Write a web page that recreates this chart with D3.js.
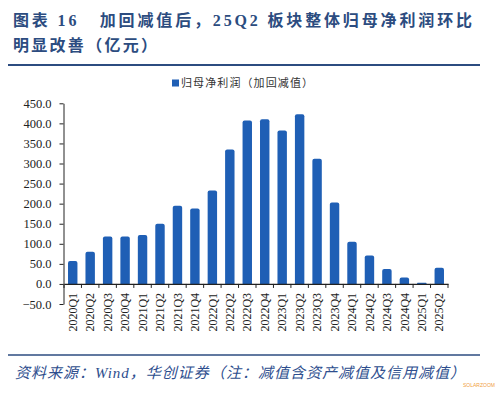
<!DOCTYPE html>
<html>
<head>
<meta charset="utf-8">
<script src="https://cdn.jsdelivr.net/npm/d3@7"></script>
<style>
  html, body { margin: 0; padding: 0; background: #fff; }
  svg { display: block; }
  text { white-space: pre; }
</style>
</head>
<body>
<svg id="chart"></svg>
<script>
// données
const quarters = ["2020Q1","2020Q2","2020Q3","2020Q4","2021Q1","2021Q2","2021Q3","2021Q4",
  "2022Q1","2022Q2","2022Q3","2022Q4","2023Q1","2023Q2","2023Q3","2023Q4",
  "2024Q1","2024Q2","2024Q3","2024Q4","2025Q1","2025Q2"];
const netProfit = [57, 80, 118, 118, 122, 150, 195, 188, 233, 335, 407, 410, 382, 423, 312, 203,
  105, 71, 37, 16, 3, 40];
const yTicks = [-50, 0, 50, 100, 150, 200, 250, 300, 350, 400, 450];
const seriesName = "归母净利润（加回减值）";
const titleLines = ["图表 16   加回减值后，25Q2 板块整体归母净利润环比", "明显改善（亿元）"];
const sourceText = "资料来源：Wind，华创证券（注：减值含资产减值及信用减值）";

const W = 500, H = 397;
const blue = "#1f5fb5";
const navy = "#2c4c80";
const serif = "'Liberation Serif', 'Times New Roman', 'Noto Sans CJK SC', serif";
const cjk = "'Liberation Serif', 'Noto Sans CJK SC', sans-serif";

const svg = d3.select("#chart").attr("width", W).attr("height", H);

// titre
const titleWidths = [459, 144];
svg.selectAll(".title")
  .data(titleLines)
  .enter()
  .append("text")
  .attr("class", "title")
  .attr("x", 13)
  .attr("y", (d, i) => 26 + i * 25)
  .attr("fill", navy)
  .attr("font-family", cjk)
  .attr("font-weight", "bold")
  .attr("font-size", 16)
  .attr("textLength", (d, i) => titleWidths[i])
  .attr("lengthAdjust", "spacing")
  .text(d => d);

// lignes de séparation
svg.append("line").attr("x1", 8).attr("x2", 480).attr("y1", 65).attr("y2", 65)
  .attr("stroke", navy).attr("stroke-width", 2);
svg.append("line").attr("x1", 8).attr("x2", 480).attr("y1", 355).attr("y2", 355)
  .attr("stroke", navy).attr("stroke-width", 1.5);

// échelles
const x = d3.scaleBand().domain(quarters).range([64, 448]).paddingInner(0.46).paddingOuter(0.23);
const y = d3.scaleLinear().domain([-50, 450]).range([304, 103.3]);

// axe Y
const yAxis = svg.append("g")
  .attr("transform", "translate(63.5,0)")
  .call(d3.axisLeft(y).tickValues(yTicks).tickFormat(d3.format(".1f")).tickSize(4).tickSizeOuter(0));
yAxis.select(".domain").attr("stroke", "#222");
yAxis.selectAll(".tick line").attr("stroke", "#222");
yAxis.selectAll("text")
  .attr("font-family", serif)
  .attr("font-size", 12.5)
  .attr("fill", "#222")
  .attr("x", -12);

// barres
svg.selectAll(".bar")
  .data(netProfit)
  .enter()
  .append("path")
  .attr("class", "bar")
  .attr("fill", blue)
  .attr("d", (d, i) => {
    const x0 = x(quarters[i]), w = x.bandwidth();
    const yTop = y(Math.max(0, d)), yBot = y(Math.min(0, d));
    const r = Math.min(2, (yBot - yTop) / 2);
    return `M${x0},${yBot}V${yTop + r}Q${x0},${yTop} ${x0 + r},${yTop}H${x0 + w - r}Q${x0 + w},${yTop} ${x0 + w},${yTop + r}V${yBot}Z`;
  });

// axe X sur zéro
const xAxis = svg.append("g")
  .attr("transform", `translate(0,${y(0)})`)
  .call(d3.axisBottom(x).tickSize(0).tickSizeOuter(0));
xAxis.select(".domain").attr("stroke", "#222").attr("stroke-width", 1.2);
xAxis.selectAll(".tick line").remove();
xAxis.selectAll("text")
  .attr("font-family", serif)
  .attr("font-size", 12)
  .attr("fill", "#222")
  .attr("transform", "rotate(-90)")
  .attr("text-anchor", "end")
  .attr("x", -9)
  .attr("y", 0)
  .attr("dy", "0.35em");
// petites graduations entre catégories
const step = x.step();
svg.append("g")
  .selectAll("line")
  .data(d3.range(quarters.length + 1))
  .enter()
  .append("line")
  .attr("x1", i => 64 + i * step)
  .attr("x2", i => 64 + i * step)
  .attr("y1", y(0))
  .attr("y2", y(0) + 4)
  .attr("stroke", "#222");

// légende
svg.append("rect").attr("x", 172).attr("y", 79.5).attr("width", 7).attr("height", 7).attr("fill", blue);
svg.append("text")
  .attr("x", 181).attr("y", 87)
  .attr("font-family", "'Noto Sans CJK SC', sans-serif")
  .attr("font-size", 11)
  .attr("fill", "#333")
  .attr("textLength", 132)
  .attr("lengthAdjust", "spacing")
  .text(seriesName);

// source
svg.append("text")
  .attr("x", 15).attr("y", 378)
  .attr("font-family", "'Liberation Serif', 'Noto Sans CJK SC', serif")
  .attr("font-style", "italic")
  .attr("font-size", 15)
  .attr("fill", "#2e4e8e")
  .attr("textLength", 450)
  .attr("lengthAdjust", "spacing")
  .text(sourceText);

// filigrane
svg.append("text")
  .attr("x", 463).attr("y", 387)
  .attr("font-family", "Liberation Sans, sans-serif")
  .attr("font-size", 5)
  .attr("fill", "#f0a040")
  .text("SOLARZOOM");
</script>
</body>
</html>
